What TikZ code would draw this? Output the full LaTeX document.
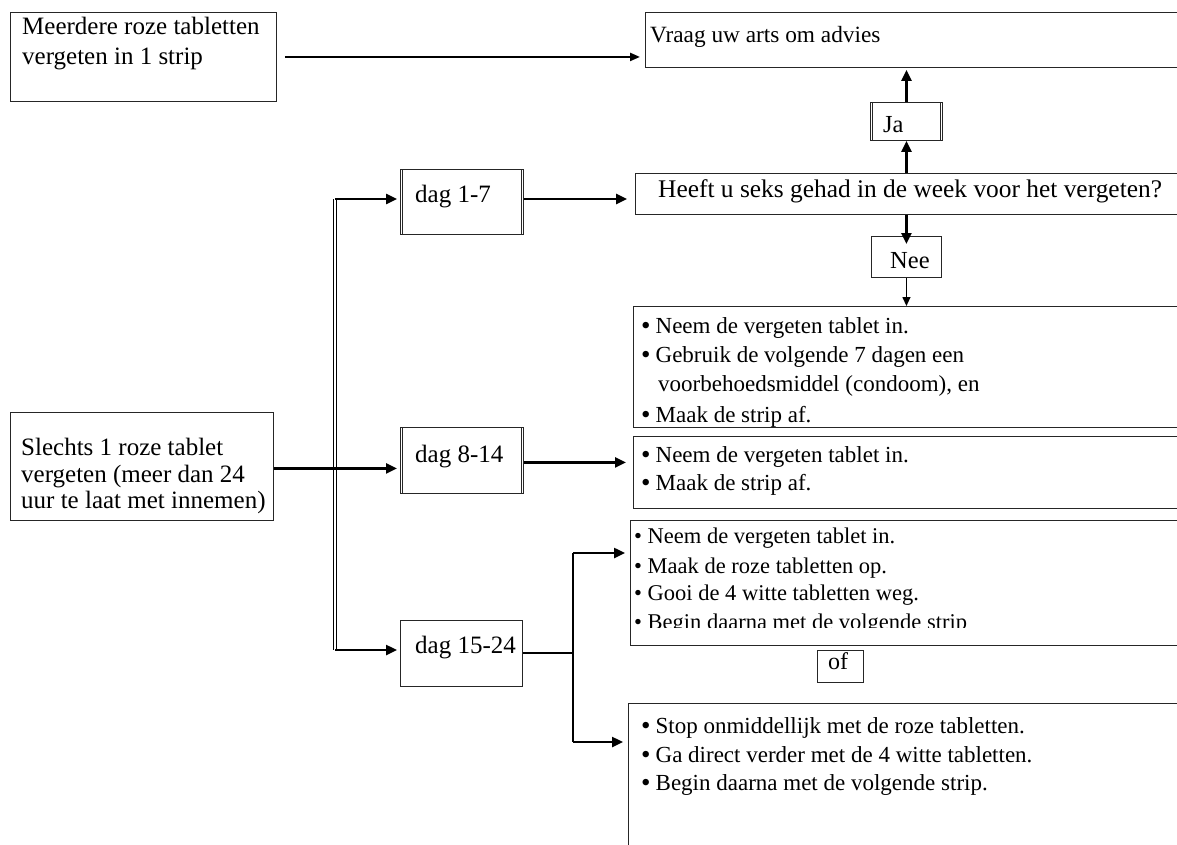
\documentclass[tikz,border=0pt]{standalone}
\usepackage{fontspec}
\setmainfont{Liberation Serif}
\usetikzlibrary{arrows.meta}
\newcommand\fs[1]{\fontsize{#1}{#1}\selectfont}
\newcommand\bul{{\fontsize{27}{27}\selectfont\raisebox{-1pt}{•}}}
\tikzset{
  box/.style={draw=black!85, line width=0.9pt, inner sep=0pt, anchor=north west},
  txt/.style={anchor=base west, inner sep=0pt, font=\fs{24}},
  bigarr/.style={line width=2.4pt, -{Triangle[length=11pt,width=10pt]}},
  midarr/.style={line width=2.2pt, -{Triangle[length=10pt,width=8pt]}},
  thinarr/.style={line width=1.3pt, -{Triangle[length=9pt,width=8pt]}},
  plain/.style={line width=1.3pt},
  spine/.style={double, double distance=1.8pt, line width=0.8pt}
}
\begin{document}
\begin{tikzpicture}[x=1pt,y=-1pt]
\useasboundingbox (0,0) rectangle (1177,845);
\clip (0,0) rectangle (1177,845);
\fill[white] (0,0) rectangle (1177,845);

% boxes
\node[box, minimum width=266pt, minimum height=89pt] (A) at (10,12) {};
\node[box, minimum width=560pt, minimum height=55pt] (V) at (645,12) {};
\node[box, minimum width=72pt, minimum height=38pt] (Ja) at (870,102) {};
\node[box, minimum width=570pt, minimum height=41pt] (Q) at (635,173) {};
\node[box, minimum width=70pt, minimum height=41pt] (Nee) at (871,236) {};
\node[box, minimum width=570pt, minimum height=121pt] (B1) at (633,306) {};
\node[box, minimum width=570pt, minimum height=72pt] (B2) at (633,436) {};
\node[box, minimum width=123pt, minimum height=65pt] (D1) at (400,169) {};
\node[box, minimum width=123pt, minimum height=66pt] (D2) at (400,427) {};
\node[box, minimum width=122pt, minimum height=66pt] (D3) at (400,620) {};
\node[box, minimum width=263pt, minimum height=108pt] (S) at (10,412) {};
\node[box, minimum width=570pt, minimum height=125pt] (B3) at (630,520) {};
\node[box, minimum width=46pt, minimum height=32pt] (Of) at (817,650) {};
\node[box, minimum width=570pt, minimum height=160pt] (B4) at (628,703) {};

% double side lines
\foreach \n in {Ja,D1,D2}{
  \draw[black!85, line width=0.7pt] ([xshift=2.5pt,yshift=-0.5pt]\n.north west) -- ([xshift=2.5pt,yshift=0.5pt]\n.south west);
  \draw[black!85, line width=0.7pt] ([xshift=-2.5pt,yshift=-0.5pt]\n.north east) -- ([xshift=-2.5pt,yshift=0.5pt]\n.south east);
}

% texts
\node[txt, font=\fs{25}] (tA1) at (22,35) {Meerdere roze tabletten};
\node[txt, font=\fs{25}] (tA2) at (22,65) {vergeten in 1 strip};
\node[txt, font=\fs{23.3}] (tV) at (650,43) {Vraag uw arts om advies};
\node[txt, font=\fs{24.5}] (tJa) at (883,133) {Ja};
\node[txt, font=\fs{25.4}] (tQ) at (658,197) {Heeft u seks gehad in de week voor het vergeten?};
\node[txt, font=\fs{24.5}] (tNee) at (890,268) {Nee};
\node[txt, font=\fs{25}] (tD1) at (415,203) {dag 1-7};
\node[txt, font=\fs{25}] (tD2) at (415,462) {dag 8-14};
\node[txt, font=\fs{25}] (tD3) at (415,653) {dag 15-24};
\node[txt, font=\fs{25}] (tS1) at (21,455) {Slechts 1 roze tablet};
\node[txt, font=\fs{25}] (tS2) at (21,482) {vergeten (meer dan 24};
\node[txt, font=\fs{25}] (tS3) at (21,508) {uur te laat met innemen)};
\node[txt] (tOf) at (828,669) {of};

\begin{scope}[every node/.append style={font=\fs{23}}]
\begin{scope}
\clip (633,306) rectangle (1177,426);
\node[txt, font=\fs{23}] (b11) at (641,333) {\bul\hspace{5pt}Neem de vergeten tablet in.};
\node[txt, font=\fs{23}] (b12) at (641,362) {\bul\hspace{5pt}Gebruik de volgende 7 dagen een};
\node[txt, font=\fs{23}] (b13) at (658,391) {voorbehoedsmiddel (condoom), en};
\node[txt, font=\fs{23}] (b14) at (641,422) {\bul\hspace{5pt}Maak de strip af.};
\end{scope}
\node[txt, font=\fs{23}] (b21) at (641,462) {\bul\hspace{5pt}Neem de vergeten tablet in.};
\node[txt, font=\fs{23}] (b22) at (641,490) {\bul\hspace{5pt}Maak de strip af.};
\begin{scope}
\clip (630,520) rectangle (1177,627);
\node[txt, font=\fs{22.5}] (b31) at (634,543) {• Neem de vergeten tablet in.};
\node[txt, font=\fs{22.5}] (b32) at (634,573) {• Maak de roze tabletten op.};
\node[txt, font=\fs{22.5}] (b33) at (634,600) {• Gooi de 4 witte tabletten weg.};
\node[txt, font=\fs{22.5}] (b34) at (634,629) {• Begin daarna met de volgende strip};
\end{scope}
\node[txt, font=\fs{23}] (b41) at (641,733) {\bul\hspace{5pt}Stop onmiddellijk met de roze tabletten.};
\node[txt, font=\fs{23}] (b42) at (641,762) {\bul\hspace{5pt}Ga direct verder met de 4 witte tabletten.};
\node[txt, font=\fs{23}] (b43) at (641,790) {\bul\hspace{5pt}Begin daarna met de volgende strip.};
\end{scope}

% connectors
\coordinate (aS) at ([yshift=-2pt]S.east);
\coordinate (aD2) at ([yshift=-2pt]D2.east);
\draw[midarr] ([xshift=8pt]A.east) -- ([xshift=-5pt]V.west |- A.east);
\draw[bigarr, shorten >=2pt] (Ja.north) -- (Ja.north |- V.south);
\draw[bigarr] (Ja.south |- Q.north) -- (Ja.south);
\draw[bigarr] (Nee.north |- Q.south) -- ([yshift=-8pt]Nee.north);
\draw[thinarr] (Nee.south) -- (Nee.south |- B1.north);

\coordinate (sp1) at (335,199);
\coordinate (sp3) at (335,650);
\draw[spine] (sp1) -- (sp3);
\draw[bigarr, shorten >=3pt] (sp1) -- (D1.west |- sp1);
\draw[bigarr, shorten >=3pt] (aS) -- (D2.west |- aS);
\draw[bigarr, shorten >=3pt] (sp3) -- (D3.west |- sp3);

\draw[bigarr, shorten >=8pt] (D1.east |- sp1) -- (Q.west |- sp1);
\draw[bigarr, shorten >=7pt] (aD2) -- (B2.west |- aD2);

\coordinate (jn) at (573,653);
\coordinate (jt) at (573,553);
\coordinate (jb) at (573,742);
\draw[plain] (D3.east |- jn) -- (jn);
\draw[plain] (jt) -- (jb);
\draw[bigarr, shorten >=5pt] (jt) -- (B3.west |- jt);
\draw[bigarr, shorten >=5pt] (jb) -- (B4.west |- jb);
\end{tikzpicture}
\end{document}
